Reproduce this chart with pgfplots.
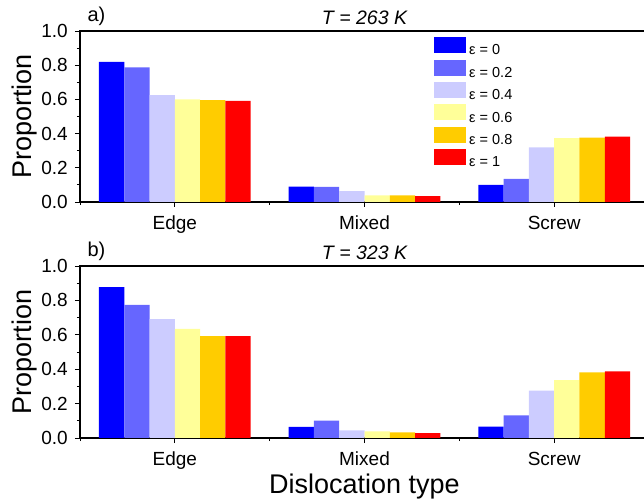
\documentclass[border=0pt]{standalone}
\usepackage{pgfplots}
\pgfplotsset{compat=1.18}
\usepackage{fontspec}
\setmainfont{Liberation Sans}
\definecolor{c0}{RGB}{0,0,255}
\definecolor{c1}{RGB}{102,102,255}
\definecolor{c2}{RGB}{204,204,255}
\definecolor{c3}{RGB}{255,255,153}
\definecolor{c4}{RGB}{255,204,0}
\definecolor{c5}{RGB}{255,0,0}
\pgfplotsset{
  panel/.style={
    scale only axis, width=569bp,
    xmin=-0.5, xmax=2.5, ymin=0, ymax=1,
    ybar=0pt, bar width=0.133333,
    clip=false,
    axis line style={line width=1.1bp},
    xtick={0,1,2}, xticklabels={Edge,Mixed,Screw},
    minor xtick={-0.5,0.5,1.5,2.5},
    ytick={0,0.2,0.4,0.6,0.8,1},
    minor ytick={0.1,0.3,0.5,0.7,0.9},
    xtick pos=left, ytick pos=left,
    tick align=outside,
    major tick length=5bp, minor tick length=3bp,
    every tick/.style={black, line width=0.9bp},
    /pgf/number format/assume math mode=true,
    tick label style={font=\fontsize{19bp}{22bp}\selectfont},
    yticklabel style={/pgf/number format/fixed, /pgf/number format/fixed zerofill, /pgf/number format/precision=1, anchor=east, inner xsep=0pt, xshift=-7bp},
    xticklabel style={anchor=base, inner ysep=0pt, yshift=-22.5bp},
    every axis y label/.style={at={(axis description cs:-0.0861,0.5)}, rotate=90, anchor=base, font=\fontsize{27bp}{32bp}\selectfont},
    every axis x label/.style={at={(axis description cs:0.5,-0.32)}, anchor=base, font=\fontsize{27bp}{32bp}\selectfont},
    every axis title/.style={at={(axis description cs:0.5,1)}, anchor=base, yshift=6bp, font=\fontsize{19.5bp}{23bp}\selectfont\itshape},
    ylabel={Proportion},
    every axis plot post/.append style={draw=none, legend image code/.code={\fill[##1] (0bp,-2.6bp) rectangle (32bp,13.4bp);}},
  },
}
\begin{document}
\begin{tikzpicture}
\useasboundingbox (0,0) rectangle (644bp,504bp);
\begin{axis}[panel, at={(80bp,302bp)}, anchor=south west, height=171bp,
  title={T = 263 K},
  legend style={at={(axis description cs:0.6221,0.9649)}, anchor=north west, draw=none, fill=none, inner sep=0pt, row sep=3.2bp, font=\fontsize{14.5bp}{17bp}\selectfont, nodes={inner xsep=3bp, inner ysep=0pt}},
  legend cell align=left]
\addplot[fill=c0] coordinates {(0,0.820) (1,0.090) (2,0.100)};
\addplot[fill=c1] coordinates {(0,0.787) (1,0.088) (2,0.135)};
\addplot[fill=c2] coordinates {(0,0.625) (1,0.064) (2,0.320)};
\addplot[fill=c3] coordinates {(0,0.600) (1,0.039) (2,0.373)};
\addplot[fill=c4] coordinates {(0,0.596) (1,0.039) (2,0.377)};
\addplot[fill=c5] coordinates {(0,0.592) (1,0.035) (2,0.383)};
\legend{ε = 0, ε = 0.2, ε = 0.4, ε = 0.6, ε = 0.8, ε = 1}
\node[anchor=base west, font=\fontsize{20bp}{23bp}\selectfont] at (axis description cs:0.007,1) [yshift=9bp] {a)};
\end{axis}
\begin{axis}[panel, at={(80bp,66bp)}, anchor=south west, height=172bp,
  title={T = 323 K}, xlabel={Dislocation type}]
\addplot[fill=c0] coordinates {(0,0.877) (1,0.064) (2,0.066)};
\addplot[fill=c1] coordinates {(0,0.774) (1,0.101) (2,0.132)};
\addplot[fill=c2] coordinates {(0,0.691) (1,0.045) (2,0.276)};
\addplot[fill=c3] coordinates {(0,0.634) (1,0.039) (2,0.337)};
\addplot[fill=c4] coordinates {(0,0.593) (1,0.033) (2,0.381)};
\addplot[fill=c5] coordinates {(0,0.593) (1,0.029) (2,0.387)};
\node[anchor=base west, font=\fontsize{20bp}{23bp}\selectfont] at (axis description cs:0.007,1) [yshift=9bp] {b)};
\end{axis}
\end{tikzpicture}
\end{document}
